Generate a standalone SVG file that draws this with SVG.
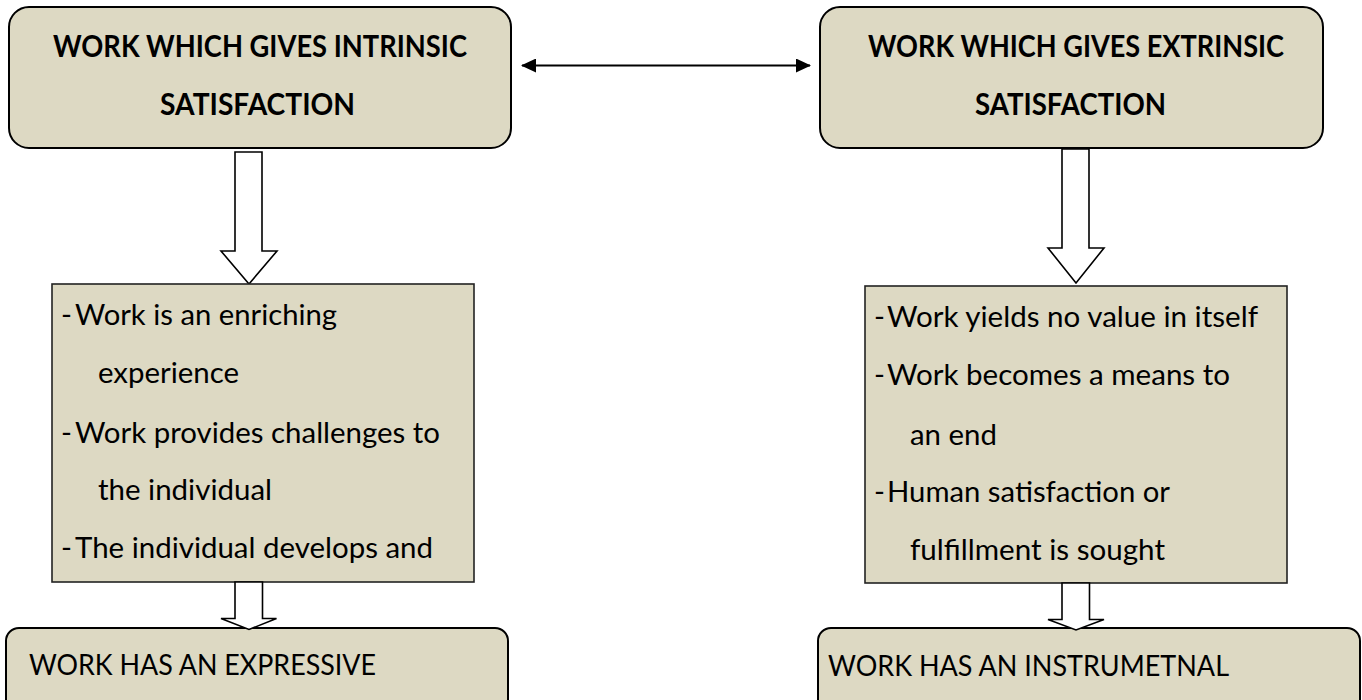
<svg xmlns="http://www.w3.org/2000/svg" width="1362" height="700" viewBox="0 0 1362 700">
<style>
.rbox{fill:#DDD9C3;stroke:#000;stroke-width:2}
.box{fill:#DDD9C3;stroke:#222;stroke-width:1.6}
.barrow{fill:#fff;stroke:#000;stroke-width:1.6;stroke-linejoin:miter}
.title{font-family:Lato,"Open Sans",sans-serif;font-weight:bold;font-size:29.5px;fill:#000}
.body{font-family:Lato,"Open Sans",sans-serif;font-size:29.5px;fill:#000}
.conn{stroke:#000;stroke-width:2;fill:none}
</style>
<defs>
<marker id="ah" viewBox="0 0 15 14" refX="14" refY="7" markerWidth="15" markerHeight="14" markerUnits="userSpaceOnUse" orient="auto-start-reverse">
<path d="M0,0 L15,7 L0,14 Z" fill="#000"/>
</marker>
</defs>

<g id="connectors">
<line class="conn" x1="522" y1="65.5" x2="810" y2="65.5" marker-start="url(#ah)" marker-end="url(#ah)"/>
<path id="arrow-intrinsic-top" class="barrow" d="M235,152 L262,152 L262,251 L277,251 L249,284 L221,251 L235,251 Z"/>
<path id="arrow-extrinsic-top" class="barrow" d="M1062,149 L1089,149 L1089,248 L1104,248 L1076,283 L1048,248 L1062,248 Z"/>
</g>

<g id="node-intrinsic">
<rect class="rbox" x="9" y="7" width="502" height="141" rx="20" ry="20"/>
<text class="title" x="53" y="57" textLength="414" lengthAdjust="spacingAndGlyphs">WORK WHICH GIVES INTRINSIC</text>
<text class="title" x="160" y="115" textLength="195" lengthAdjust="spacingAndGlyphs">SATISFACTION</text>
</g>

<g id="node-extrinsic">
<rect class="rbox" x="820" y="7" width="503" height="141" rx="20" ry="20"/>
<text class="title" x="868" y="57" textLength="416" lengthAdjust="spacingAndGlyphs">WORK WHICH GIVES EXTRINSIC</text>
<text class="title" x="975" y="115" textLength="191" lengthAdjust="spacingAndGlyphs">SATISFACTION</text>
</g>

<g id="node-intrinsic-list">
<rect class="box" x="52" y="284" width="422" height="298"/>
<text class="body" x="61" y="325">-</text>
<text class="body" x="75" y="325" textLength="262" lengthAdjust="spacingAndGlyphs">Work is an enriching</text>
<text class="body" x="98" y="383" textLength="141" lengthAdjust="spacingAndGlyphs">experience</text>
<text class="body" x="61" y="443">-</text>
<text class="body" x="75" y="443" textLength="365" lengthAdjust="spacingAndGlyphs">Work provides challenges to</text>
<text class="body" x="98" y="500" textLength="174" lengthAdjust="spacingAndGlyphs">the individual</text>
<text class="body" x="61" y="558">-</text>
<text class="body" x="75" y="558" textLength="358" lengthAdjust="spacingAndGlyphs">The individual develops and</text>
</g>

<g id="node-extrinsic-list">
<rect class="box" x="865" y="286" width="422" height="297"/>
<text class="body" x="874" y="327">-</text>
<text class="body" x="887" y="327" textLength="371" lengthAdjust="spacingAndGlyphs">Work yields no value in itself</text>
<text class="body" x="874" y="385">-</text>
<text class="body" x="887" y="385" textLength="343" lengthAdjust="spacingAndGlyphs">Work becomes a means to</text>
<text class="body" x="910" y="445" textLength="87" lengthAdjust="spacingAndGlyphs">an end</text>
<text class="body" x="874" y="502">-</text>
<text class="body" x="887" y="502" textLength="283" lengthAdjust="spacingAndGlyphs">Human satisfaction or</text>
<text class="body" x="910" y="560" textLength="255" lengthAdjust="spacingAndGlyphs">fulfillment is sought</text>
</g>

<g id="node-expressive">
<rect class="rbox" x="6" y="628" width="502" height="100" rx="13" ry="13"/>
<text class="body" x="29" y="675" textLength="347" lengthAdjust="spacingAndGlyphs">WORK HAS AN EXPRESSIVE</text>
</g>

<g id="node-instrumental">
<rect class="rbox" x="818" y="628" width="542" height="100" rx="13" ry="13"/>
<text class="body" x="828" y="676" textLength="401" lengthAdjust="spacingAndGlyphs">WORK HAS AN INSTRUMETNAL</text>
</g>

<g id="connectors-lower">
<path id="arrow-intrinsic-bottom" class="barrow" d="M235,582 L262.5,582 L262.5,618.5 L276.5,618.5 L249,629.5 L221,618.5 L235,618.5 Z"/>
<path id="arrow-extrinsic-bottom" class="barrow" d="M1062,583 L1089.5,583 L1089.5,619.5 L1104,619.5 L1076,630 L1048,619.5 L1062,619.5 Z"/>
</g>
</svg>
